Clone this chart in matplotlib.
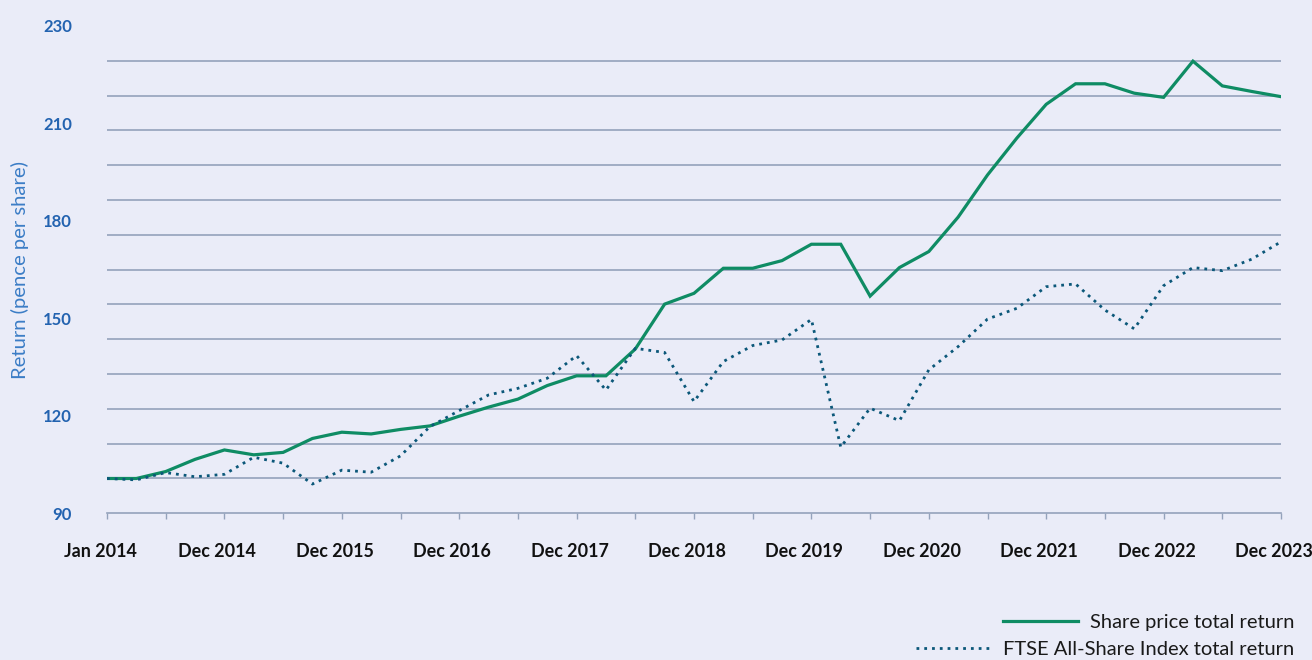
import matplotlib
matplotlib.use("Agg")
import matplotlib.pyplot as plt
import matplotlib.transforms as mtransforms
from matplotlib.ticker import FixedLocator, MultipleLocator
import numpy as np

# ---------------- data ----------------
quarter_index = list(range(41))  # Jan 2014 .. Dec 2023, quarterly
share_price_tr = [100, 100, 102, 105.5, 108.2, 106.8, 107.5, 111.5, 113.3, 112.8,
                  114.1, 115.1, 117.9, 120.5, 122.8, 126.7, 129.5, 129.5, 137.2, 150.1,
                  153.2, 160.4, 160.4, 162.6, 167.3, 167.3, 152.4, 160.6, 165.2, 175.1,
                  187.2, 197.8, 207.5, 213.4, 213.4, 210.7, 209.5, 219.9, 212.8, 211.2,
                  209.7]
ftse_tr = [100, 99.6, 101.7, 100.5, 101.2, 106.1, 104.4, 98.4, 102.4, 101.8,
           106.5, 114.9, 119.5, 124.0, 125.9, 128.8, 135.3, 125.4, 137.4, 136.2,
           122.1, 133.6, 138.2, 139.8, 145.7, 109.0, 120.2, 116.6, 131.2, 137.9,
           145.8, 148.9, 155.1, 155.9, 148.4, 143.0, 155.4, 160.6, 159.7, 163.0,
           168.0]
x_tick_pos = [0, 4, 8, 12, 16, 20, 24, 28, 32, 36, 40]
x_tick_labels = ["Jan 2014", "Dec 2014", "Dec 2015", "Dec 2016", "Dec 2017",
                 "Dec 2018", "Dec 2019", "Dec 2020", "Dec 2021", "Dec 2022", "Dec 2023"]
y_tick_labels = ["90", "120", "150", "180", "210", "230"]
series_labels = ["Share price total return", "FTSE All-Share Index total return"]

# ---------------- style ----------------
BG = "#eaecf8"
GRID = "#94a2bb"
GREEN = "#0f8c64"
DOTBLUE = "#0b5779"
YBLUE = "#2363b0"
TITLEBLUE = "#3b7dc6"

plt.rcParams["font.family"] = ["Lato", "DejaVu Sans"]

W, H = 1312, 660
fig = plt.figure(figsize=(W / 100, H / 100), dpi=100, facecolor=BG)
ax = fig.add_axes([107 / W, 1 - 513.3 / H, (1281 - 107) / W, (513.3 - 26) / H])
ax.set_facecolor(BG)

ax.set_xlim(0, 40)
ax.set_ylim(90, 230)

# gridlines every 10 units
ax.yaxis.set_minor_locator(MultipleLocator(10))
ax.grid(True, which="minor", axis="y", color=GRID, linewidth=1.2)
ax.grid(False, which="major")
ax.set_axisbelow(True)

# y labels evenly distributed along axis
y_pos = np.linspace(90, 230, len(y_tick_labels))
ax.yaxis.set_major_locator(FixedLocator(y_pos))
ax.set_yticklabels(y_tick_labels)
ax.tick_params(axis="y", which="both", length=0, pad=35 * 0.72,
               labelsize=12, labelcolor=YBLUE)
for lbl in ax.get_yticklabels():
    lbl.set_fontweight("bold")

# x ticks
ax.xaxis.set_major_locator(FixedLocator(x_tick_pos))
ax.xaxis.set_minor_locator(MultipleLocator(2))
ax.set_xticklabels(x_tick_labels)
ax.tick_params(axis="x", which="both", length=4.5, width=1, color=GRID,
               direction="out", pad=17, labelsize=12.9, labelcolor="#111111")
offset = mtransforms.ScaledTranslation(-7 / 100, 0, fig.dpi_scale_trans)
for lbl in ax.get_xticklabels():
    lbl.set_fontweight("bold")
    lbl.set_transform(lbl.get_transform() + offset)

for s in ["top", "right", "left"]:
    ax.spines[s].set_visible(False)
ax.spines["bottom"].set_color(GRID)
ax.spines["bottom"].set_linewidth(1.2)

ax.set_ylabel("Return (pence per share)", color=TITLEBLUE, fontsize=14.6)
ax.yaxis.set_label_coords(-(107 - 29) / (1281 - 107), 0.5)

# lines
l1, = ax.plot(quarter_index, share_price_tr, color=GREEN, linewidth=2.3,
              solid_joinstyle="miter", label=series_labels[0])
l2, = ax.plot(quarter_index, ftse_tr, color=DOTBLUE, linewidth=2.0,
              linestyle=(0, (1, 1.8)), label=series_labels[1])

# legend: two right-aligned rows
common = dict(frameon=False, fontsize=14.5, handlelength=3.75, handletextpad=0.55,
              borderpad=0, borderaxespad=0, labelcolor="#1a1a1a")
leg1 = fig.legend(handles=[l1], labels=[series_labels[0]], loc="center right",
                  bbox_to_anchor=(1294 / W, 1 - 622 / H), **common)
leg2 = fig.legend(handles=[l2], labels=[series_labels[1]], loc="center right",
                  bbox_to_anchor=(1294 / W, 1 - 649 / H), **common)

fig.savefig("out.png", dpi=100, facecolor=BG)
